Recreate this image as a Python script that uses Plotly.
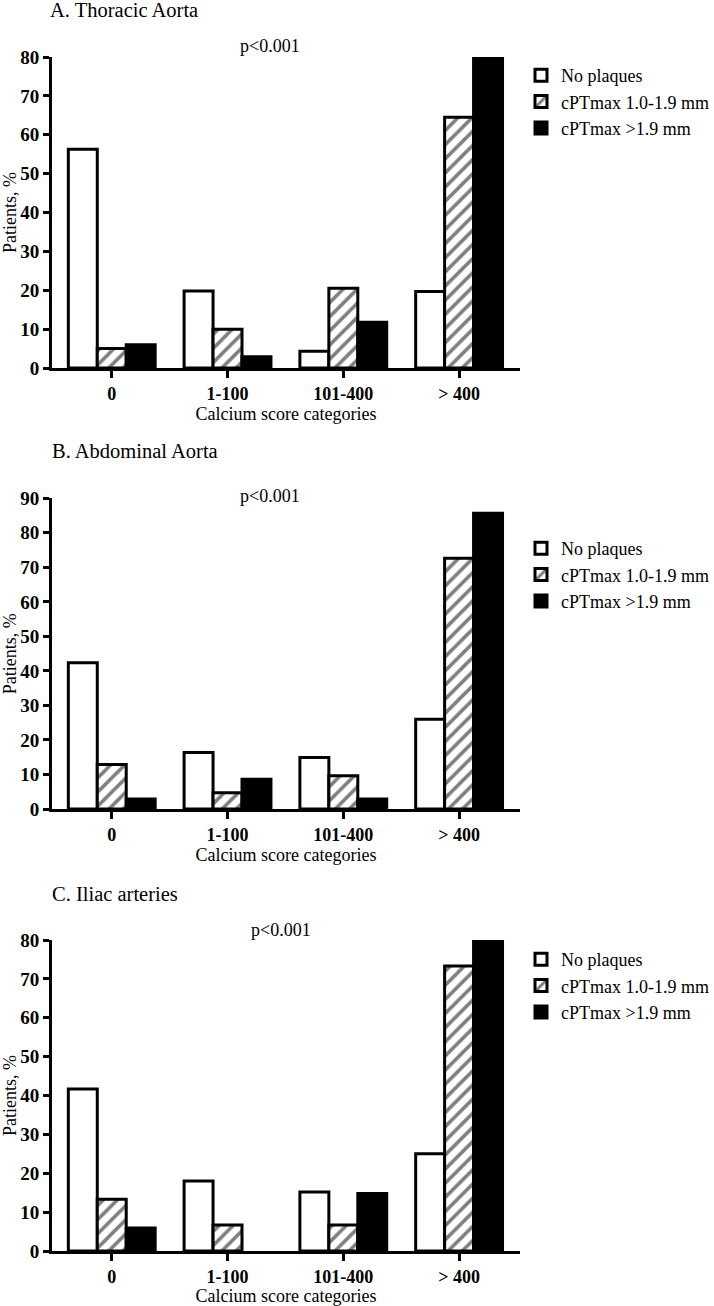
import plotly.graph_objects as go

# ---------------- data ----------------
categories = ["0", "1-100", "101-400", "> 400"]
series_names = ["No plaques", "cPTmax 1.0-1.9 mm", "cPTmax >1.9 mm"]

A_no = [56.3, 19.8, 4.3, 19.7]
A_mid = [5.0, 10.0, 20.5, 64.5]
A_high = [6.0, 2.9, 11.8, 79.6]

B_no = [42.4, 16.4, 14.9, 26.0]
B_mid = [12.9, 4.7, 9.6, 72.6]
B_high = [2.9, 8.6, 2.9, 85.7]

C_no = [41.7, 18.0, 15.2, 25.0]
C_mid = [13.3, 6.7, 6.7, 73.3]
C_high = [5.9, 0.0, 14.8, 79.6]

panel_titles = ["A. Thoracic Aorta", "B. Abdominal Aorta", "C. Iliac arteries"]
y_max = [80, 90, 80]
p_text = "p<0.001"

# ---------------- layout helpers ----------------
W, H = 714, 1306
FONT = "Liberation Serif, Times New Roman, DejaVu Serif, serif"


def fx(x):
    return x / W


def fy(y):
    return 1 - y / H


panels = [
    dict(vals=(A_no, A_mid, A_high), top=57, bottom=368, title_xy=(48, 10), p_xy=(270, 46), leg_xy=(521, 57)),
    dict(vals=(B_no, B_mid, B_high), top=498.3, bottom=809, title_xy=(50, 451), p_xy=(270, 496), leg_xy=(521, 530)),
    dict(vals=(C_no, C_mid, C_high), top=940, bottom=1251, title_xy=(50, 894), p_xy=(281, 930), leg_xy=(521, 941)),
]

x_left, x_right = 52, 520

fig = go.Figure()

styles = [
    dict(color="white"),
    dict(color="white", pattern=dict(shape="/", fgcolor="black", bgcolor="white", size=10, solidity=0.36)),
    dict(color="black"),
]

annotations = []
layout_axes = {}
for i, pnl in enumerate(panels):
    k = "" if i == 0 else str(i + 1)
    leg = "legend" if i == 0 else f"legend{i + 1}"
    for name, vals, st in zip(series_names, pnl["vals"], styles):
        marker = dict(st)
        # no outline for empty (zero-height) bars
        marker["line"] = dict(color="black", width=[3 if v > 0 else 0 for v in vals])
        fig.add_trace(go.Bar(
            x=categories, y=vals, name=name, marker=marker,
            xaxis="x" + k, yaxis="y" + k, legend=leg,
        ))
    layout_axes["xaxis" + k] = dict(
        domain=[fx(x_left), fx(x_right)], anchor="y" + k, type="category",
        range=[-0.516, 3.526], showline=True, linecolor="black", linewidth=3,
        ticks="outside", ticklen=7, tickwidth=3, tickcolor="black",
        tickfont=dict(family=FONT, size=18, color="black", weight="bold"),
        showgrid=False, zeroline=False, automargin=False,
        title=dict(text="Calcium score categories", font=dict(family=FONT, size=18, color="black"), standoff=2),
    )
    layout_axes["yaxis" + k] = dict(
        domain=[fy(pnl["bottom"]), fy(pnl["top"])], anchor="x" + k,
        range=[0, y_max[i]], dtick=10, tick0=0, showline=True, linecolor="black", linewidth=3,
        ticks="outside", ticklen=6, tickwidth=3, tickcolor="black",
        tickfont=dict(family=FONT, size=19, color="black", weight="bold"),
        showgrid=False, zeroline=False, automargin=False,
        title=dict(text="Patients, %", font=dict(family=FONT, size=18, color="black"), standoff=8),
    )
    layout_axes[leg] = dict(
        x=fx(pnl["leg_xy"][0]), y=fy(pnl["leg_xy"][1]), xanchor="left", yanchor="top",
        font=dict(family=FONT, size=18, color="black"), bgcolor="rgba(0,0,0,0)",
        traceorder="normal",
    )
    annotations.append(dict(
        text=panel_titles[i], x=fx(pnl["title_xy"][0]), y=fy(pnl["title_xy"][1]),
        xref="paper", yref="paper", xanchor="left", yanchor="middle", showarrow=False,
        font=dict(family=FONT, size=20.5, color="black"),
    ))
    annotations.append(dict(
        text=p_text, x=fx(pnl["p_xy"][0]), y=fy(pnl["p_xy"][1]),
        xref="paper", yref="paper", xanchor="center", yanchor="middle", showarrow=False,
        font=dict(family=FONT, size=18, color="black"),
    ))

fig.update_layout(
    width=W, height=H, margin=dict(l=0, r=0, t=0, b=0),
    paper_bgcolor="white", plot_bgcolor="white",
    barmode="group", bargap=0.25, bargroupgap=0,
    annotations=annotations,
    font=dict(family=FONT, color="black"),
    **layout_axes,
)

fig.write_html("out.html", config={"displayModeBar": False},
               post_script="document.body.style.margin='0';")
